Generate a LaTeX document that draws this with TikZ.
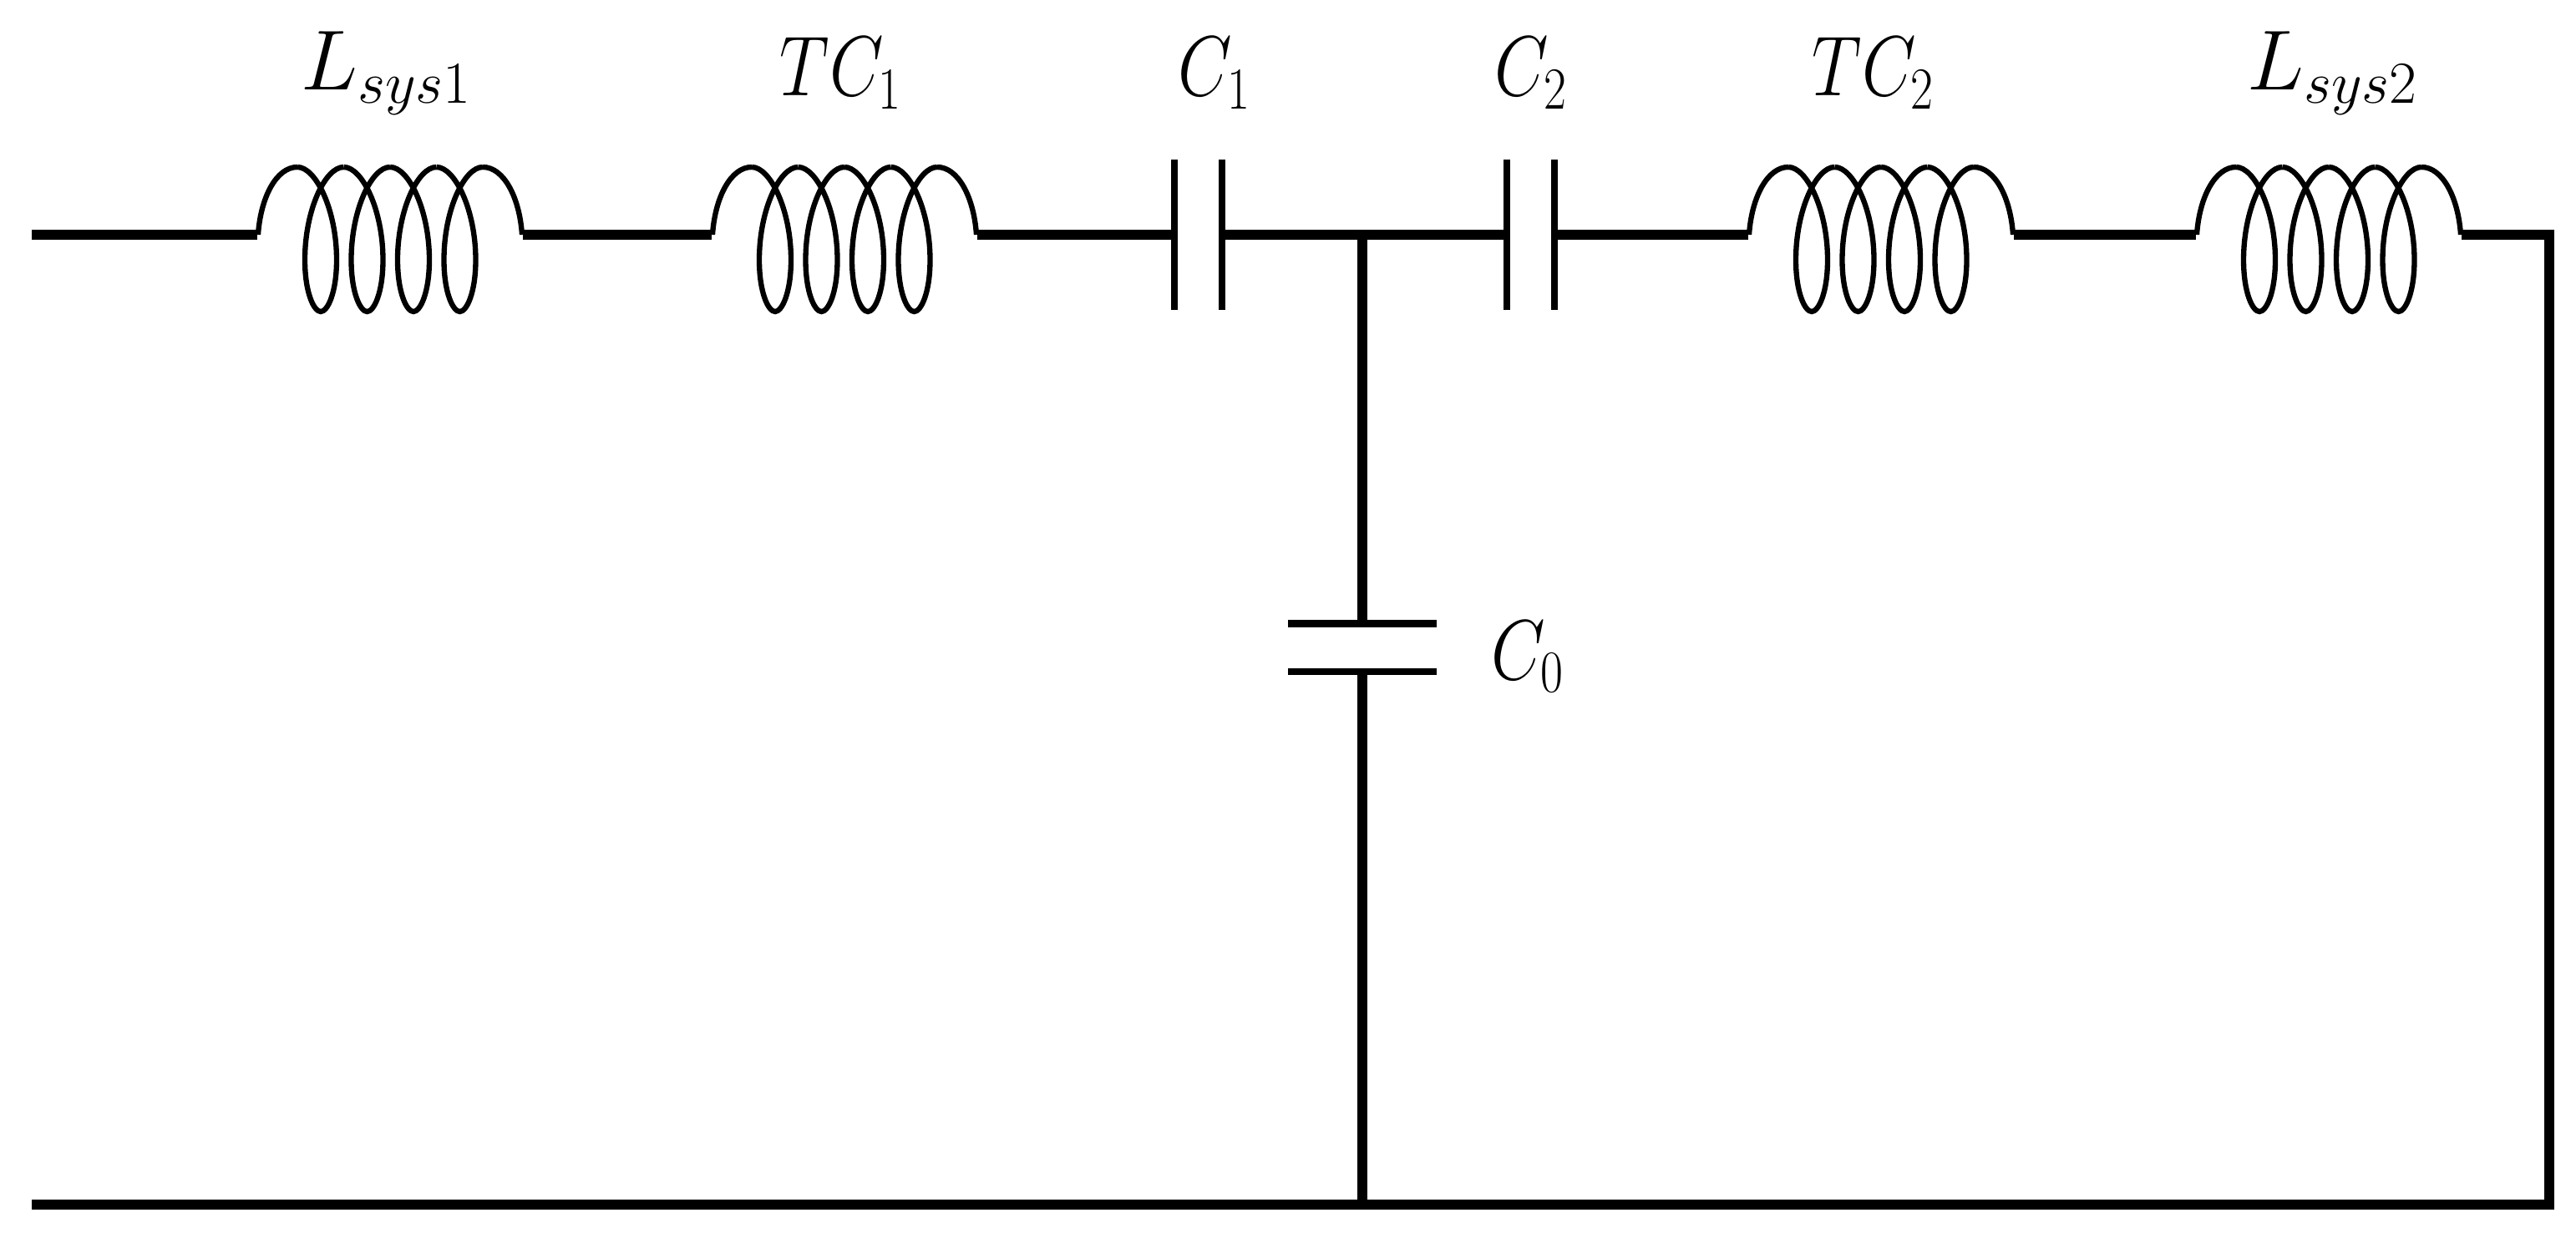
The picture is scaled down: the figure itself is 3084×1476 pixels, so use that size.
\documentclass[tikz,border=0pt]{standalone}
\usepackage{amsmath}
\usepackage{graphicx}
\usepackage{fix-cm}
\newcommand{\narrowtag}[1]{\scalebox{0.82}[1]{#1}}
\newcommand{\coil}[1]{
    \begin{scope}[shift={(#1)}]
        \draw[coilline] (-158,0) .. controls (-155,-45) and (-136,-81) .. (-111,-81);
        \foreach \h in {-111,-55.5,0,55.5} {
            \draw[coilline] (\h,-81) .. controls (\h+22,-81) and (\h+47,-30) .. (\h+47,30)
                .. controls (\h+47,70) and (\h+36,92) .. (\h+28,92)
                .. controls (\h+20,92) and (\h+9,70) .. (\h+9,30)
                .. controls (\h+9,-30) and (\h+33.5,-81) .. (\h+55.5,-81);
        }
        \draw[coilline] (111,-81) .. controls (136,-81) and (155,-45) .. (158,0);
    \end{scope}
}
\tikzset{
    coilline/.style={line width=1.8pt},
    wire/.style={line width=3.5pt},
    plate/.style={line width=2.4pt},
    coilbox/.style={rectangle, inner sep=0pt, minimum width=3.16cm, minimum height=0pt},
    capbox/.style={rectangle, inner sep=0pt, minimum width=0.555cm, minimum height=1.78cm},
    capboxv/.style={rectangle, inner sep=0pt, minimum width=1.76cm, minimum height=0.56cm},
    tag/.style={inner sep=0pt, anchor=base, font=\fontsize{29}{34}\selectfont}
}

\begin{document}
\begin{tikzpicture}[x=0.01cm, y=-0.01cm]
        \useasboundingbox (0,0) rectangle (3084,1476);
        % corners and junctions of the wiring
        \coordinate (in) at (38,281);
        \coordinate (out) at (38,1442);
        \coordinate (top) at (1631,281);
        \coordinate (bot) at (1631,1442);
        \coordinate (cr) at (3052,281);
        \coordinate (br) at (3052,1442);
        \node (l1) at (467,281) [coilbox] {};
        \node (tc1) at (1011,281) [coilbox] {};
        \node (tc2) at (2252,281) [coilbox] {};
        \node (l2) at (2788,281) [coilbox] {};
        \node (c1) at (1434.7,281) [capbox] {};
        \node (c2) at (1832.7,281) [capbox] {};
        \node (c0) at (1631,775) [capboxv] {};
        \coil{l1}
        \coil{tc1}
        \coil{tc2}
        \coil{l2}
        \draw[plate] (c1.north west)--(c1.south west);
        \draw[plate] (c1.north east)--(c1.south east);
        \draw[plate] (c2.north west)--(c2.south west);
        \draw[plate] (c2.north east)--(c2.south east);
        \draw[plate] (c0.north west)--(c0.north east);
        \draw[plate] (c0.south west)--(c0.south east);
        \draw[wire] (in)--(l1.west);
        \draw[wire] (l1.east)--(tc1.west);
        \draw[wire] (tc1.east)--(c1.west);
        \draw[wire] (c1.east)--(c2.west);
        \draw[wire] (c2.east)--(tc2.west);
        \draw[wire] (tc2.east)--(l2.west);
        \draw[wire, line join=miter] (l2.east)--(cr)--(br)--(out);
        \draw[wire] (top)--(c0.north);
        \draw[wire] (c0.south)--(bot);
        \node (tl1) at (463,108) [tag] {$L_{sys1}$};
        \node (ttc1) at (1007,115) [tag] {\narrowtag{$TC_1$}};
        \node (tc1a) at (1454,115) [tag] {\narrowtag{$C_1$}};
        \node (tc2a) at (1833,115) [tag] {\narrowtag{$C_2$}};
        \node (ttc2) at (2243,115) [tag] {\narrowtag{$TC_2$}};
        \node (tl2) at (2793,108) [tag] {$L_{sys2}$};
        \node (tc0) at (1829,813) [tag] {\narrowtag{$C_0$}};
    \end{tikzpicture}
\end{document}
